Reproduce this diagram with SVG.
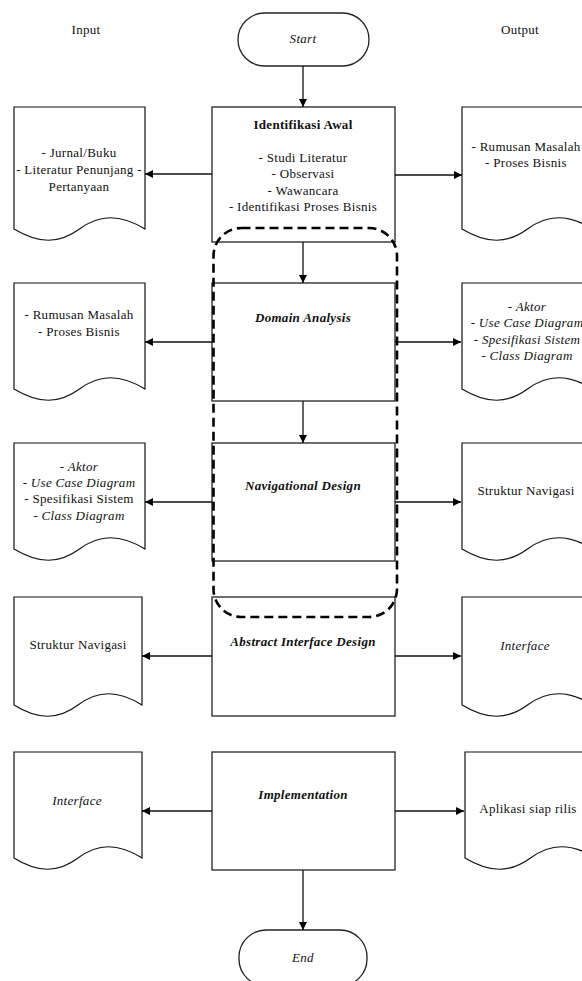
<svg xmlns="http://www.w3.org/2000/svg" width="582" height="981" viewBox="0 0 582 981">
<style>
text{font-family:"Liberation Serif","Times New Roman",serif;font-size:13px;letter-spacing:0.3px;fill:#111;text-anchor:middle}
.b{font-weight:bold}.bi{font-weight:bold;font-style:italic}.i{font-style:italic}
.box{fill:#fff;stroke:#222;stroke-width:1.3}
.doc{fill:#fff;stroke:#111;stroke-width:1.2}
.ln{fill:none;stroke:#111;stroke-width:1.3}
.dash{fill:none;stroke:#000;stroke-width:2.6;stroke-dasharray:9 5}
</style>
<defs>
<marker id="ah" viewBox="0 0 10 10" refX="10" refY="5" markerWidth="8" markerHeight="8" markerUnits="userSpaceOnUse" orient="auto">
<path d="M0,0 L10,5 L0,10 z" fill="#000"/>
</marker>
</defs>
<g id="labels">
<text x="86" y="34">Input</text>
<text x="520" y="34">Output</text>
</g>
<g id="start"><rect x="238" y="13" width="131" height="53" rx="26.5" class="box"/><text x="303" y="43" class="i">Start</text></g>
<g id="identifikasi"><rect x="212" y="107" width="183" height="135" class="box"/>
<text x="303" y="129" class="b">Identifikasi Awal</text>
<text x="303" y="162">- Studi Literatur</text>
<text x="303" y="178">- Observasi</text>
<text x="303" y="195">- Wawancara</text>
<text x="303" y="211">- Identifikasi Proses Bisnis</text></g>
<g id="domain"><rect x="212" y="283" width="183" height="118" class="box"/><text x="303" y="322" class="bi">Domain Analysis</text></g>
<g id="navigational"><rect x="212" y="443" width="183" height="118" class="box"/><text x="303" y="490" class="bi">Navigational Design</text></g>
<g id="abstract"><rect x="212" y="597" width="183" height="119" class="box"/><text x="303" y="646" class="bi">Abstract Interface Design</text></g>
<g id="implementation"><rect x="212" y="752" width="183" height="118" class="box"/><text x="303" y="799" class="bi">Implementation</text></g>
<g id="end"><rect x="239" y="930" width="128" height="56" rx="27" class="box"/><text x="303" y="962" class="i">End</text></g>

<g id="in1"><path class="doc" d="M14,107 H145 V229 C120,214 100,214 79.5,229 C59,244 39,244 14,229 Z"/>
<text x="79" y="157">- Jurnal/Buku</text><text x="79" y="174">- Literatur Penunjang -</text><text x="79" y="191">Pertanyaan</text></g>
<g id="out1"><path class="doc" d="M462,107 H593 V229 C568,214 548,214 527.5,229 C507,244 487,244 462,229 Z"/>
<text x="526" y="151">- Rumusan Masalah</text><text x="526" y="167">- Proses Bisnis</text></g>
<g id="in2"><path class="doc" d="M14,283 H145 V389 C120,374 100,374 79.5,389 C59,404 39,404 14,389 Z"/>
<text x="79" y="319">- Rumusan Masalah</text><text x="79" y="336">- Proses Bisnis</text></g>
<g id="out2"><path class="doc" d="M462,283 H593 V389 C568,374 548,374 527.5,389 C507,404 487,404 462,389 Z"/>
<text x="527" y="311" class="i">- Aktor</text><text x="527" y="327" class="i">- Use Case Diagram</text><text x="527" y="344" class="i">- Spesifikasi Sistem</text><text x="527" y="360" class="i">- Class Diagram</text></g>
<g id="in3"><path class="doc" d="M14,443 H145 V549 C120,534 100,534 79.5,549 C59,564 39,564 14,549 Z"/>
<text x="79" y="471" class="i">- Aktor</text><text x="79" y="487" class="i">- Use Case Diagram</text><text x="79" y="503">- Spesifikasi Sistem</text><text x="79" y="520" class="i">- Class Diagram</text></g>
<g id="out3"><path class="doc" d="M462,443 H593 V549 C568,534 548,534 527.5,549 C507,564 487,564 462,549 Z"/>
<text x="526" y="495">Struktur Navigasi</text></g>
<g id="in4"><path class="doc" d="M14,597 H142 V705 C118,690 98,690 78,705 C58,720 38,720 14,705 Z"/>
<text x="78" y="649">Struktur Navigasi</text></g>
<g id="out4"><path class="doc" d="M462,597 H593 V705 C568,690 548,690 527.5,705 C507,720 487,720 462,705 Z"/>
<text x="525" y="650" class="i">Interface</text></g>
<g id="in5"><path class="doc" d="M14,752 H142 V858 C118,843 98,843 78,858 C58,873 38,873 14,858 Z"/>
<text x="77" y="805" class="i">Interface</text></g>
<g id="out5"><path class="doc" d="M465,752 H596 V858 C571,843 551,843 530.5,858 C510,873 490,873 465,858 Z"/>
<text x="528" y="813">Aplikasi siap rilis</text></g>

<g id="connectors">
<path class="ln" marker-end="url(#ah)" d="M303,66 V107"/>
<path class="ln" marker-end="url(#ah)" d="M303,242 V283"/>
<path class="ln" marker-end="url(#ah)" d="M303,401 V443"/>
<path class="ln" marker-end="url(#ah)" d="M303,870 V930"/>
<path class="ln" marker-end="url(#ah)" d="M212,174 H145"/>
<path class="ln" marker-end="url(#ah)" d="M395,175 H462"/>
<path class="ln" marker-end="url(#ah)" d="M212,342 H145"/>
<path class="ln" marker-end="url(#ah)" d="M395,342 H461"/>
<path class="ln" marker-end="url(#ah)" d="M212,502 H145"/>
<path class="ln" marker-end="url(#ah)" d="M395,502 H461"/>
<path class="ln" marker-end="url(#ah)" d="M212,656 H142"/>
<path class="ln" marker-end="url(#ah)" d="M395,656 H461"/>
<path class="ln" marker-end="url(#ah)" d="M212,811 H142"/>
<path class="ln" marker-end="url(#ah)" d="M395,811 H464"/>
</g>
<g id="dashed-group"><rect x="213.5" y="228" width="183.5" height="389" rx="28" class="dash"/></g>
</svg>
